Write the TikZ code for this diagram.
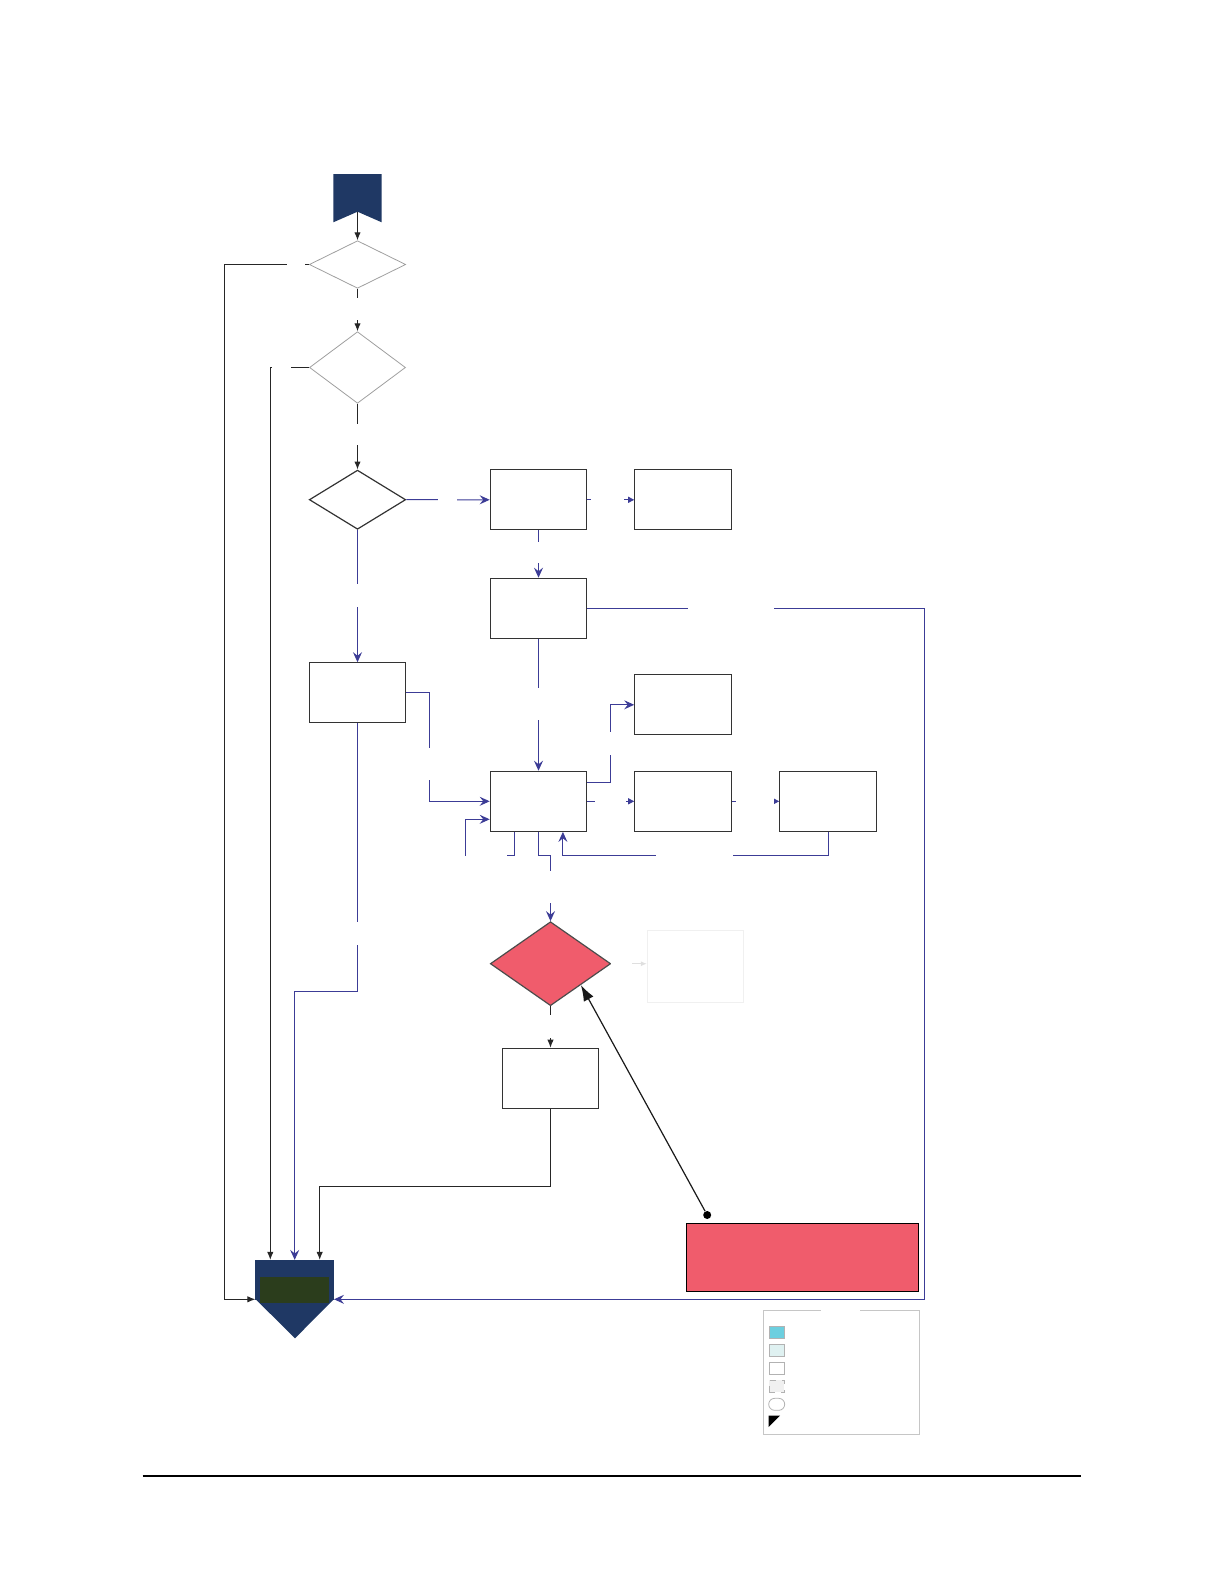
\documentclass[tikz,border=0pt]{standalone}
\usepackage{tikz}
\usetikzlibrary{arrows.meta, positioning, shapes.geometric, calc}

\definecolor{navy}{HTML}{1F3864}
\definecolor{flowblue}{HTML}{3C3C96}
\definecolor{alertred}{HTML}{F05C6C}
\definecolor{boxgray}{HTML}{333333}
\definecolor{darkolive}{HTML}{2B3D1C}
\definecolor{legcyan}{HTML}{6CCFDF}
\definecolor{legpale}{HTML}{DFF1F1}

\tikzset{
  procbox/.style={draw=boxgray, line width=0.6pt, minimum width=48.2pt, minimum height=30pt, inner sep=0pt},
  decision/.style={diamond, draw=boxgray, line width=0.6pt, inner sep=0pt, aspect=2},
  softdecision/.style={decision, draw=gray!75, line width=0.4pt},
  gap/.style={fill=white, inner sep=0pt},
  blackflow/.style={draw=black!85, line width=0.5pt, -{Latex[length=4pt, width=3.2pt]}},
  blueflow/.style={draw=flowblue, line width=0.5pt, -{Stealth[length=5pt, width=4.5pt, inset=1.8pt]}},
  bluetick/.style={draw=flowblue, line width=0.5pt, -{Triangle[length=3pt, width=3pt]}},
  swatch/.style={draw=gray!60, line width=0.4pt, minimum width=7.6pt, minimum height=6pt, inner sep=0pt}
}

\begin{document}
\begin{tikzpicture}[x=0.5pt, y=-0.5pt]
  \useasboundingbox (0,0) rectangle (1224,1584);

  % Start banner
  \fill[navy] (333.3,174) -- (381.7,174) -- (381.7,222.3) -- (357.5,211.7) -- (333.3,222.3) -- cycle;
  \coordinate (start) at (357.5,211.7);

  % Decisions down the left column
  \node[softdecision, minimum width=48.2pt, minimum height=23.8pt] (dA) at (357.5,264.5) {};
  \node[softdecision, minimum width=48pt, minimum height=35.8pt] (dB) at (357.5,367.5) {};
  \node[decision, minimum width=48.2pt, minimum height=29.6pt] (dC) at (357.5,499.7) {};

  % Process boxes
  \node[procbox] (bxA) at (538.5,499.8) {};
  \node[procbox] (bxB) at (683,499.8) {};
  \node[procbox] (bxC) at (538.5,608.3) {};
  \node[procbox] (bxD) at (357.5,692.8) {};
  \node[procbox] (bxE) at (683,704.8) {};
  \node[procbox] (bxF) at (538.5,801.3) {};
  \node[procbox] (bxG) at (683,801.3) {};
  \node[procbox] (bxH) at (828,801.3) {};

  % Red check and the boxes below it
  \node[decision, fill=alertred, draw=black!70, minimum width=60.2pt, minimum height=42pt] (redck) at (550.5,963.7) {};
  \node[draw=gray!12, line width=0.4pt, minimum width=48.2pt, minimum height=36pt, inner sep=0pt] (ghost) at (695.5,966.3) {};
  \node[procbox] (bxI) at (550.5,1078.3) {};

  % End shape
  \node[fill=navy, minimum width=39.3pt, minimum height=19.85pt, inner sep=0pt] (endbox) at (294.7,1280.15) {};
  \fill[navy] (255.4,1299) -- (334,1299) -- (295,1338.3) -- cycle;
  \fill[darkolive] (260.4,1276.7) rectangle (329,1303.3);
  \coordinate (endL) at (255.4,1299.3);
  \coordinate (endR) at (334,1299.3);

  % Note box with pin
  \node[draw=black, fill=alertred, line width=0.6pt, minimum width=116pt, minimum height=34.2pt, inner sep=0pt] (alert) at (802.4,1257.5) {};
  \node[circle, fill=black, inner sep=0pt, minimum size=4pt] (pin) at (707.2,1215) {};

  % Connectors, black
  \draw[blackflow] (start) -- (dA.north);
  \draw[blackflow] (dA.south) -- (dB.north);
  \draw[blackflow] (dB.south) -- (dC.north);
  \draw[blackflow] (dA.west) -- ++(-84,0) |- (endL);
  \draw[blackflow] (dB.west) -| ($(endbox.north west)+(15.3,0)$);
  \draw[blackflow] (redck.south) -- (bxI.north);
  \draw[blackflow] (bxI.south) -- ++(0,78) -| ($(endbox.north east)+(-14.7,0)$);
  \draw[black!90, line width=0.6pt, -{Latex[length=8pt, width=5.5pt]}] (pin) -- ($(redck.east)!0.5!(redck.south)$);

  % Connectors, blue
  \draw[blueflow] (dC.east) -- (bxA.west);
  \draw[bluetick] (bxA.east) -- (bxB.west);
  \draw[blueflow] (bxA.south) -- (bxC.north);
  \draw[blueflow] (dC.south) -- (bxD.north);
  \draw[blueflow] (bxC.south) -- (bxF.north);
  \draw[blueflow] (bxD.east) -- ++(23.6,0) |- (bxF.west);
  \draw[blueflow] ($(bxF.south west)+(24.4,0)$) -- ++(0,24) -| ($(bxF.west)+(-24,18)$) -- ($(bxF.west)+(0,18)$);
  \draw[blueflow] ($(bxF.north east)+(0,12)$) -- ++(23.6,0) |- (bxE.west);
  \draw[bluetick] (bxF.east) -- (bxG.west);
  \draw[bluetick] (bxG.east) -- (bxH.west);
  \draw[blueflow] (bxH.south) -- ++(0,24) -| ($(bxF.south)+(24.4,0)$);
  \draw[blueflow] (bxF.south) -- ++(0,24) -| (redck.north);
  \draw[blueflow] (bxD.south) -- ++(0,268) -| (endbox.north);
  \draw[blueflow] (bxC.east) -- ++(337.6,0) |- (endR);
  \draw[gray!25, line width=0.6pt, -{Latex[length=3pt, width=2.5pt]}] (redck.east) -- (redck.east -| ghost.west);

  % Label gaps on the connectors
  \node[gap, minimum width=9.2pt, minimum height=4pt] (gA) at (295.8,265) {};
  \node[gap, minimum width=4pt, minimum height=11pt] (gB) at (357.5,309) {};
  \node[gap, minimum width=9.8pt, minimum height=3pt] (gC) at (281.6,367) {};
  \node[gap, minimum width=4pt, minimum height=10.4pt] (gD) at (357.5,434.7) {};
  \node[gap, minimum width=9.7pt, minimum height=4pt] (gE) at (447.3,499.7) {};
  \node[gap, minimum width=16.5pt, minimum height=4pt] (gF) at (607.5,499.8) {};
  \node[gap, minimum width=4pt, minimum height=10.5pt] (gG) at (538.5,552.5) {};
  \node[gap, minimum width=43pt, minimum height=4pt] (gH) at (730.8,608.3) {};
  \node[gap, minimum width=4pt, minimum height=11.5pt] (gI) at (357.5,595.8) {};
  \node[gap, minimum width=4pt, minimum height=15.8pt] (gJ) at (429.3,764.2) {};
  \node[gap, minimum width=4pt, minimum height=15.8pt] (gK) at (538.5,704.2) {};
  \node[gap, minimum width=4pt, minimum height=11.6pt] (gL) at (610.3,743.3) {};
  \node[gap, minimum width=20.6pt, minimum height=10pt] (gM) at (486.1,853.7) {};
  \node[gap, minimum width=4pt, minimum height=16pt] (gN) at (550.5,887.3) {};
  \node[gap, minimum width=38.5pt, minimum height=4pt] (gO) at (694.5,855.3) {};
  \node[gap, minimum width=15.6pt, minimum height=4pt] (gP) at (610.3,801.3) {};
  \node[gap, minimum width=19pt, minimum height=4pt] (gQ) at (754.8,801.3) {};
  \node[gap, minimum width=4pt, minimum height=11.3pt] (gR) at (550.5,1026.7) {};
  \node[gap, minimum width=4pt, minimum height=11.6pt] (gS) at (357.5,933.3) {};
  \node[gap, minimum width=10.5pt, minimum height=4pt] (gT) at (621.5,963.7) {};

  % Legend
  \node[draw=gray!45, line width=0.5pt, minimum width=78pt, minimum height=61.8pt, inner sep=0pt] (legend) at (841.3,1372.5) {};
  \node[gap, minimum width=19.5pt, minimum height=2pt] (legtitle) at (840.5,1310.7) {};
  \node[swatch, fill=legcyan] (swA) at (776.7,1332.5) {};
  \node[swatch, fill=legpale] (swB) at (776.7,1350.3) {};
  \node[swatch, fill=white] (swC) at (776.7,1368.3) {};
  \node[swatch, fill=gray!12, dashed] (swD) at (776.7,1386.3) {};
  \node[swatch, rounded corners=3pt, minimum width=8pt] (swE) at (776.7,1404.3) {};
  \fill[black] (768.7,1415.7) -- (780,1415.7) -- (768.7,1427) -- cycle;

  % Bottom rule
  \draw[black, line width=1pt] (142.7,1475.7) -- (1080.9,1475.7);
\end{tikzpicture}
\end{document}
